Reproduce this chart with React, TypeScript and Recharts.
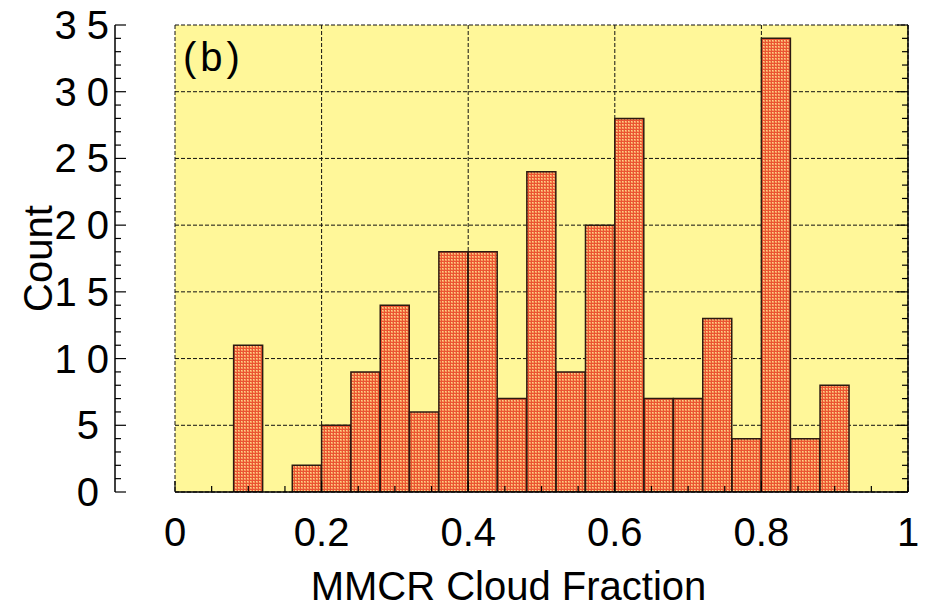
import React from 'react';
import { BarChart, Bar, XAxis, YAxis, CartesianGrid } from 'recharts';

const binLabels = [
  '0.00-0.04', '0.04-0.08', '0.08-0.12', '0.12-0.16', '0.16-0.20',
  '0.20-0.24', '0.24-0.28', '0.28-0.32', '0.32-0.36', '0.36-0.40',
  '0.40-0.44', '0.44-0.48', '0.48-0.52', '0.52-0.56', '0.56-0.60',
  '0.60-0.64', '0.64-0.68', '0.68-0.72', '0.72-0.76', '0.76-0.80',
  '0.80-0.84', '0.84-0.88', '0.88-0.92', '0.92-0.96', '0.96-1.00',
];
const binCenters = [
  0.02, 0.06, 0.1, 0.14, 0.18, 0.22, 0.26, 0.3, 0.34, 0.38, 0.42, 0.46, 0.5,
  0.54, 0.58, 0.62, 0.66, 0.7, 0.74, 0.78, 0.82, 0.86, 0.9, 0.94, 0.98,
];
const counts = [0, 0, 11, 0, 2, 5, 9, 14, 6, 18, 18, 7, 24, 9, 20, 28, 7, 7, 13, 4, 34, 4, 8, 0, 0];

const xMinorTicks = [0, 0.05, 0.1, 0.15, 0.2, 0.25, 0.3, 0.35, 0.4, 0.45, 0.5, 0.55, 0.6, 0.65, 0.7, 0.75, 0.8, 0.85, 0.9, 0.95, 1];
const xMajorTicks = [0, 0.2, 0.4, 0.6, 0.8, 1];
const xTickLabels = ['0', '0.2', '0.4', '0.6', '0.8', '1'];
const yMinorTicks = [0, 1, 2, 3, 4, 5, 6, 7, 8, 9, 10, 11, 12, 13, 14, 15, 16, 17, 18, 19, 20, 21, 22, 23, 24, 25, 26, 27, 28, 29, 30, 31, 32, 33, 34, 35];
const yMajorTicks = [0, 5, 10, 15, 20, 25, 30, 35];
const yTickLabels = ['0', '5', '10', '15', '20', '25', '30', '35'];

const xTitle = 'MMCR Cloud Fraction';
const yTitle = 'Count';
const panelLabel = '(b)';

const data = binLabels.map((bin, i) => ({ bin, mid: binCenters[i], count: counts[i] }));

const FONT = '"Liberation Sans", Arial, Helvetica, sans-serif';
const MAJOR_LEN = 11;
const MINOR_LEN = 6;
const PLOT_LEFT = 175;

const xMajorIndex = (v: number) => xMajorTicks.findIndex((m) => Math.abs(m - v) < 1e-6);
const yMajorIndex = (v: number) => yMajorTicks.findIndex((m) => Math.abs(m - v) < 1e-6);

const BottomTick = (props: any) => {
  const { x, y, payload } = props;
  const idx = xMajorIndex(payload.value);
  const len = idx >= 0 ? MAJOR_LEN : MINOR_LEN;
  return (
    <g>
      <line x1={x} y1={y} x2={x} y2={y - len} stroke="#000" strokeWidth={1.2} />
      {idx >= 0 && (
        <text x={x} y={y + 54} textAnchor="middle" fontSize={40} fontFamily={FONT} fill="#000">
          {xTickLabels[idx]}
        </text>
      )}
    </g>
  );
};

const TopTick = (props: any) => {
  const { x, y, payload } = props;
  const len = xMajorIndex(payload.value) >= 0 ? MAJOR_LEN : MINOR_LEN;
  return <line x1={x} y1={y} x2={x} y2={y + len} stroke="#000" strokeWidth={1.2} />;
};

const LeftTick = (props: any) => {
  const { x, y, payload } = props;
  const idx = yMajorIndex(payload.value);
  const len = idx >= 0 ? MAJOR_LEN : MINOR_LEN;
  const label = idx >= 0 ? yTickLabels[idx] : '';
  const shift = label.length === 1 ? -10 : 0;
  return (
    <g>
      <line x1={x} y1={y} x2={x + len} y2={y} stroke="#000" strokeWidth={1.2} />
      {idx >= 0 && (
        <text
          x={x - 6 + 10 + shift}
          y={y + 14}
          textAnchor="end"
          fontSize={40}
          letterSpacing={10}
          fontFamily={FONT}
          fill="#000"
        >
          {label}
        </text>
      )}
    </g>
  );
};

const RightTick = (props: any) => {
  const { x, y, payload } = props;
  const len = yMajorIndex(payload.value) >= 0 ? MAJOR_LEN : MINOR_LEN;
  return <line x1={x} y1={y} x2={x - len} y2={y} stroke="#000" strokeWidth={1.2} />;
};

const XTitleLabel = (props: any) => {
  const vb = props.viewBox;
  return (
    <text x={vb.x + vb.width / 2 - 33} y={vb.y + 108} textAnchor="middle" fontSize={40} fontFamily={FONT} fill="#000">
      {xTitle}
    </text>
  );
};

const YTitleLabel = (props: any) => {
  const vb = props.viewBox;
  const cx = 52;
  const cy = vb.y + vb.height / 2;
  const px = PLOT_LEFT + 8;
  const py = vb.y + 46;
  return (
    <g>
      <text x={cx} y={cy} transform={`rotate(-90 ${cx} ${cy})`} textAnchor="middle" fontSize={40} fontFamily={FONT} fill="#000">
        {yTitle}
      </text>
      <text x={px} y={py} fontSize={40} letterSpacing={4} fontFamily={FONT} fill="#000">
        {panelLabel}
      </text>
    </g>
  );
};

export default function App() {
  return (
    <div style={{ position: 'absolute', left: 0, top: 0, width: 930, height: 613, background: '#fff' }}>
      <BarChart
        width={930}
        height={613}
        data={data}
        margin={{ top: 25, right: 0, bottom: 0, left: 0 }}
        barCategoryGap={0}
        barGap={0}
      >
        <defs>
          <pattern id="checker" width="3" height="3" patternUnits="userSpaceOnUse">
            <rect x="0" y="0" width="3" height="3" fill="#ea5532" />
            <rect x="1" y="1" width="2" height="2" fill="#f79c5e" />
            <rect x="1" y="1" width="1" height="1" fill="#fdd28c" />
          </pattern>
        </defs>
        <XAxis xAxisId="cat" dataKey="bin" type="category" hide />
        <XAxis xAxisId="gridX" dataKey="mid" type="number" domain={[0, 1]} ticks={xMajorTicks} allowDataOverflow hide />
        <YAxis yAxisId="gridY" type="number" domain={[0, 35]} ticks={yMajorTicks} allowDataOverflow hide />
        <CartesianGrid
          xAxisId="gridX"
          yAxisId="gridY"
          fill="#fff799"
          fillOpacity={1}
          stroke="#111"
          strokeWidth={1}
          strokeDasharray="4 2"
        />
        <Bar
          xAxisId="cat"
          yAxisId="left"
          dataKey="count"
          fill="url(#checker)"
          stroke="#2b1a12"
          strokeWidth={1.5}
          isAnimationActive={false}
        />
        <XAxis
          xAxisId="bottom"
          dataKey="mid"
          type="number"
          orientation="bottom"
          domain={[0, 1]}
          ticks={xMinorTicks}
          interval={0}
          allowDataOverflow
          height={121}
          tickSize={0}
          tickMargin={0}
          tickLine={false}
          axisLine={{ stroke: '#000', strokeWidth: 1.5 }}
          tick={BottomTick}
          label={XTitleLabel}
        />
        <XAxis
          xAxisId="top"
          dataKey="mid"
          type="number"
          orientation="top"
          domain={[0, 1]}
          ticks={xMinorTicks}
          interval={0}
          allowDataOverflow
          height={0}
          tickSize={0}
          tickMargin={0}
          tickLine={false}
          axisLine={{ stroke: '#000', strokeWidth: 1.5 }}
          tick={TopTick}
        />
        <YAxis
          yAxisId="left"
          type="number"
          orientation="left"
          domain={[0, 35]}
          ticks={yMinorTicks}
          interval={0}
          allowDataOverflow
          width={PLOT_LEFT}
          tickSize={0}
          tickMargin={0}
          tickLine={false}
          axisLine={{ stroke: '#000', strokeWidth: 1.5 }}
          tick={LeftTick}
          label={YTitleLabel}
        />
        <YAxis
          yAxisId="right"
          type="number"
          orientation="right"
          domain={[0, 35]}
          ticks={yMinorTicks}
          interval={0}
          allowDataOverflow
          width={22}
          tickSize={0}
          tickMargin={0}
          tickLine={false}
          axisLine={{ stroke: '#000', strokeWidth: 1.5 }}
          tick={RightTick}
        />
      </BarChart>
    </div>
  );
}
